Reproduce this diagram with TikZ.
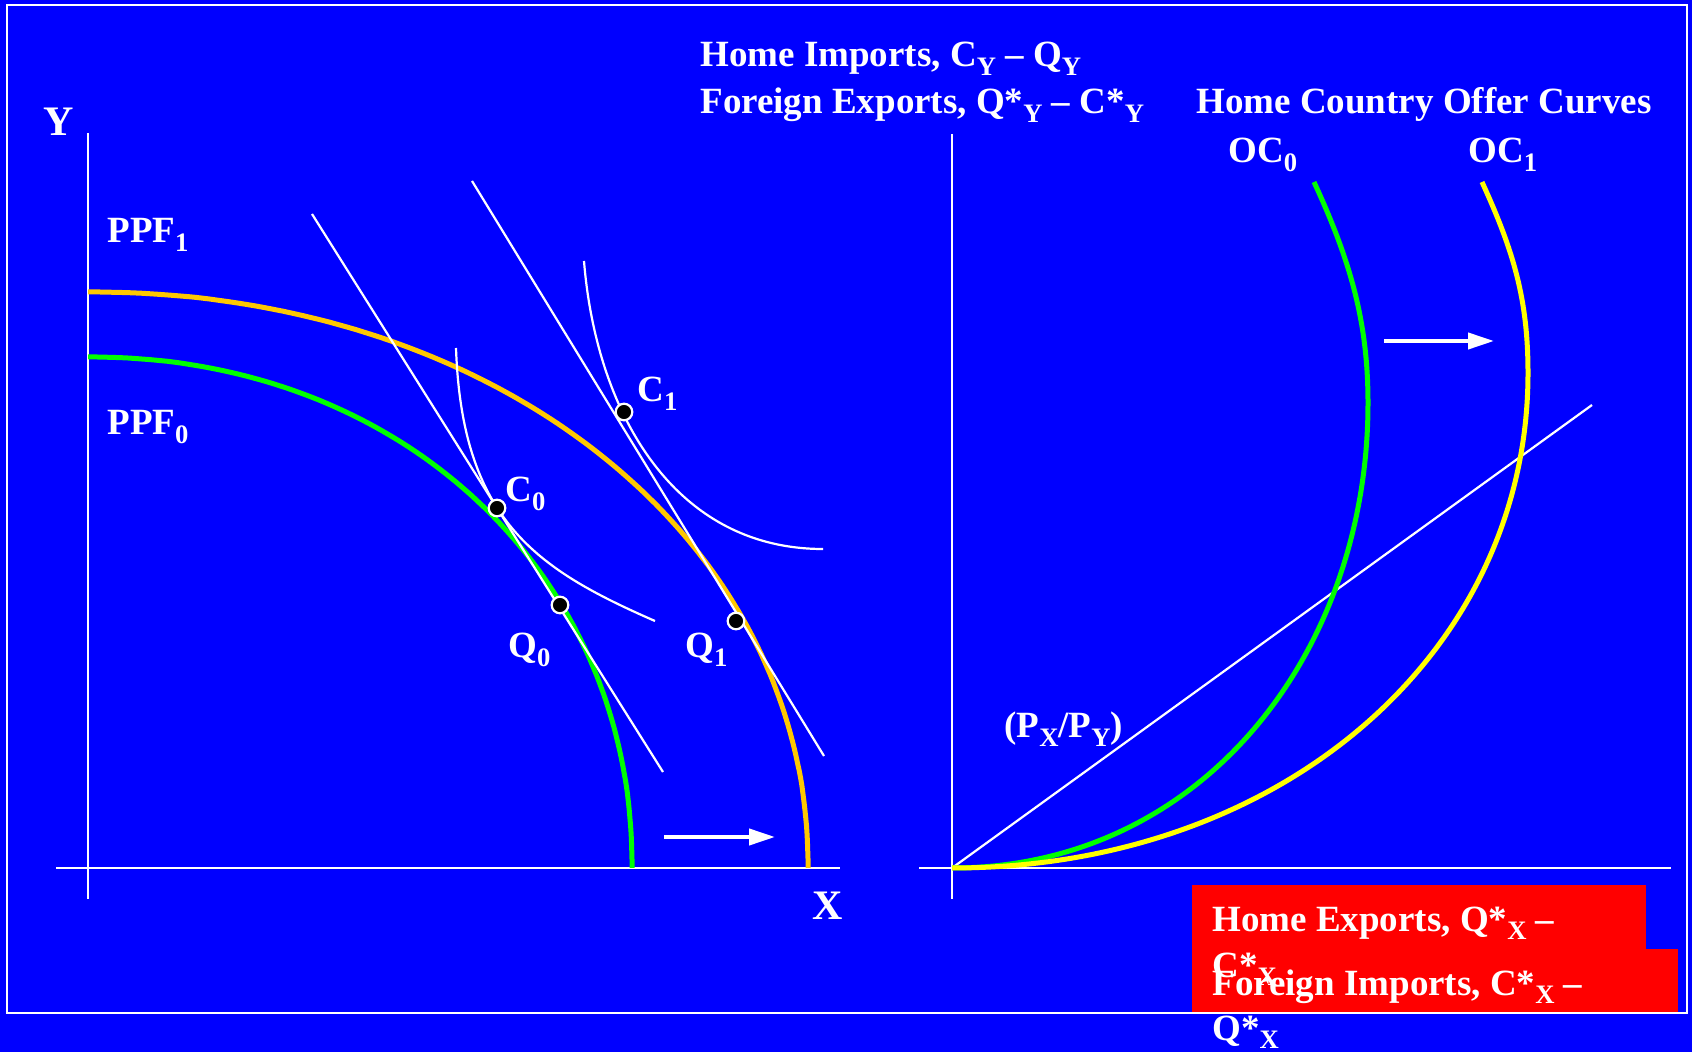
\documentclass[tikz,border=0pt]{standalone}
\usepackage{fontspec}
\setmainfont{Liberation Serif}
\usetikzlibrary{arrows.meta}
\definecolor{bgblue}{HTML}{0000FF}
\definecolor{ppforange}{HTML}{FFC800}
\definecolor{ppfgreen}{HTML}{00FF00}
\definecolor{ocyellow}{HTML}{FFFF00}
\definecolor{boxred}{HTML}{FF0000}
\newcommand\lo[1]{\raisebox{-0.24em}{\scalebox{0.72}{#1}}}
\begin{document}
\begin{tikzpicture}[x=0.5pt,y=-0.5pt,
  lbl/.style={text=white, font=\bfseries\fontsize{18.5}{23}\selectfont, inner sep=0pt, anchor=base west},
  biglbl/.style={text=white, font=\bfseries\fontsize{21}{25}\selectfont, inner sep=0pt, anchor=base west},
  axisline/.style={draw=white, line width=1.1pt},
  wline/.style={draw=white, line width=1.1pt},
  curveg/.style={draw=ppfgreen, line width=2.5pt},
  curveo/.style={draw=ppforange, line width=2.5pt},
  curvey/.style={draw=ocyellow, line width=2.5pt},
  shiftarrow/.style={draw=white, line width=2pt, -{Triangle[length=13pt,width=8pt]}},
  dot/.style={circle, fill=black, draw=white, line width=1.1pt, inner sep=0pt, minimum size=8.3pt},
  redbox/.style={fill=boxred}
]
\fill[bgblue] (0,0) rectangle (1692,1052);
\useasboundingbox (0,0) rectangle (1692,1052);
\draw[white, line width=1pt] (7,5) rectangle (1687,1013);

% ---------- left panel ----------
\coordinate (LYt) at (88,133); \coordinate (LYb) at (88,899);
\coordinate (LXl) at (56,868); \coordinate (LXr) at (840,868);
\draw[axisline] (LYt) -- (LYb);
\draw[axisline] (LXl) -- (LXr);

\draw[curveg] plot[domain=0.01:89.99, samples=120] ({88+544*pow(cos(\x),0.96)},{868-511*pow(sin(\x),0.96)});
\draw[curveo] plot[domain=0.01:89.99, samples=120] ({88+720*pow(cos(\x),0.97)},{868-576*pow(sin(\x),0.97)});

\coordinate (L0a) at (312,214); \coordinate (L0b) at (663,772);
\coordinate (L1a) at (472,181); \coordinate (L1b) at (824,756);
\draw[wline] (L0a) -- (L0b);
\draw[wline] (L1a) -- (L1b);

\coordinate (I0a) at (456,348); \coordinate (I0b) at (655,621);
\coordinate (I1a) at (584,261); \coordinate (I1b) at (823,549);
\draw[wline] (I0a) .. controls (462,520) and (536,569) .. (I0b);
\draw[wline] (I1a) .. controls (596,411) and (673,549) .. (I1b);

\node[dot] (C0) at (497,508) {};
\node[dot] (Q0) at (560,605) {};
\node[dot] (C1) at (624,412) {};
\node[dot] (Q1) at (736,621) {};

\coordinate (A1s) at (664,837); \coordinate (A1e) at (775,837);
\draw[shiftarrow] (A1s) -- (A1e);

\node[biglbl] (Ylab) at (43,136) {Y};
\node[biglbl] (Xlab) at (812,919) {X};
\node[lbl] (PPF1) at (107,243) {PPF\lo{1}};
\node[lbl] (PPF0) at (107,435) {PPF\lo{0}};
\node[lbl] (C0lab) at (505,502) {C\lo{0}};
\node[lbl] (C1lab) at (637,402) {C\lo{1}};
\node[lbl] (Q0lab) at (508,658) {Q\lo{0}};
\node[lbl] (Q1lab) at (685,658) {Q\lo{1}};

% ---------- right panel ----------
\coordinate (RO) at (952,868);
\coordinate (RYt) at (952,134); \coordinate (RYb) at (952,899);
\coordinate (RXl) at (919,868); \coordinate (RXr) at (1671,868);
\draw[axisline] (RYt) -- (RYb);
\draw[axisline] (RXl) -- (RXr);

\coordinate (Ray) at (1592,405);
\draw[wline] (RO) -- (Ray);

\coordinate (OC0m) at (1368,403); \coordinate (OC0t) at (1314,182);
\coordinate (OC1m) at (1528,373); \coordinate (OC1t) at (1482,182);
\draw[curveg] (RO) .. controls (1202,868) and (1368,653) .. (OC0m) .. controls (1368,323) and (1351,262) .. (OC0t);
\draw[curvey] (RO) .. controls (1282,868) and (1528,653) .. (OC1m) .. controls (1528,300) and (1514,252) .. (OC1t);

\coordinate (A2s) at (1384,341); \coordinate (A2e) at (1494,341);
\draw[shiftarrow] (A2s) -- (A2e);

\node[lbl] (OC0lab) at (1228,163) {OC\lo{0}};
\node[lbl] (OC1lab) at (1468,163) {OC\lo{1}};
\node[lbl] (Plab) at (1004,738) {(P\lo{X}/P\lo{Y})};

\node[lbl] (HI) at (700,67) {Home Imports, C\lo{Y} – Q\lo{Y}};
\node[lbl] (FE) at (700,114) {Foreign Exports, Q*\lo{Y} – C*\lo{Y}};
\node[lbl] (HC) at (1196,114) {Home Country Offer Curves};

% ---------- red boxes ----------
\fill[redbox] (1192,885) rectangle (1646,950);
\fill[redbox] (1192,949) rectangle (1678,1012);
\node[lbl] (HE1) at (1212,931) {Home Exports, Q*\lo{X} –};
\node[lbl] (HE2) at (1212,977) {C*\lo{X}};
\node[lbl] (FI1) at (1212,995) {Foreign Imports, C*\lo{X} –};
\node[lbl] (FI2) at (1212,1040) {Q*\lo{X}};
\end{tikzpicture}
\end{document}
